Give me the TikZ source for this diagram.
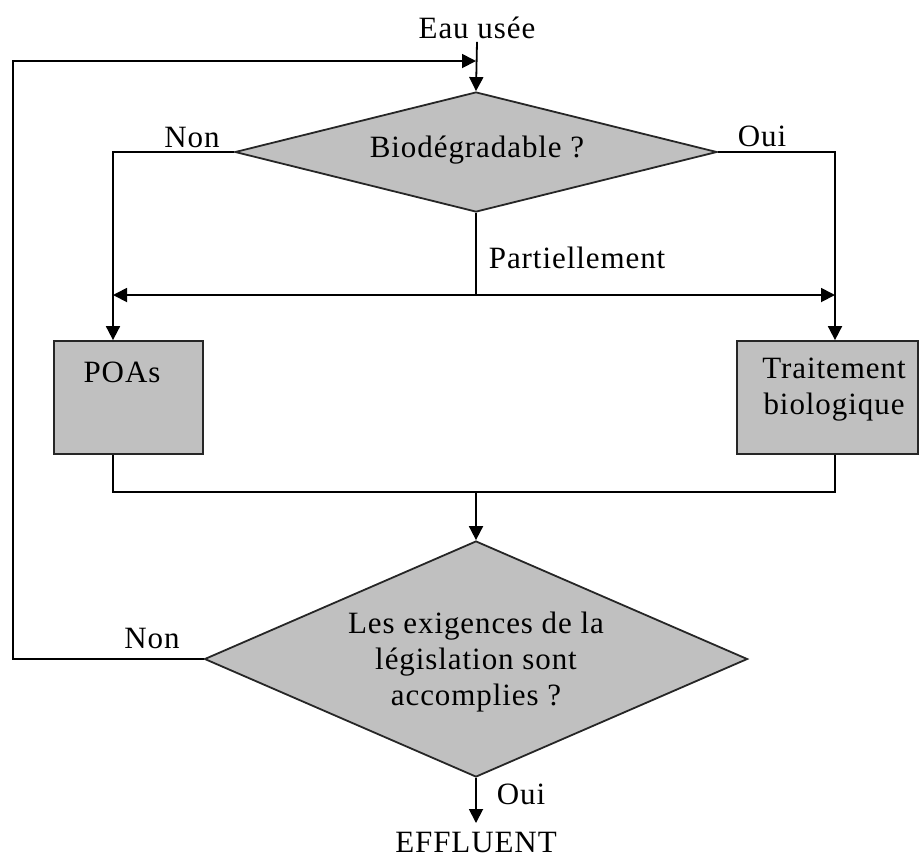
\documentclass[tikz,border=0pt]{standalone}
\usepackage{fontspec}
\setmainfont[LetterSpace=3]{Liberation Serif}
\usetikzlibrary{arrows.meta,shapes.geometric}
\begin{document}
\begin{tikzpicture}[x=0.5pt,y=-0.5pt,
  font=\fontsize{15.5}{18}\selectfont,
  line width=0.9pt,
  tip/.style={-{Triangle[length=7pt,width=7pt]}},
  decision/.style={shape=diamond,draw=black!85,fill=graybox,inner sep=0pt,align=center},
  procbox/.style={shape=rectangle,draw=black!85,fill=graybox,inner sep=0pt},
  lbl/.style={inner sep=1pt,align=center}]
\definecolor{graybox}{HTML}{C0C0C0}
\useasboundingbox (0,0) rectangle (920,859);
% shapes
\node[decision,minimum width=241pt,minimum height=60pt] (d1) at (476,152) {};
\node[lbl] (d1t) at (477,150) {Biodégradable ?};
\node[procbox,minimum width=74.5pt,minimum height=56.5pt] (poa) at (128.5,397.5) {};
\node[lbl] (poat) at (122,372) {POAs};
\node[procbox,minimum width=90.5pt,minimum height=56.5pt] (trt) at (827.5,397.5) {};
\node[lbl] (trtt) at (834,390) {Traitement\\biologique};
\node[decision,aspect=2.3,minimum width=271.5pt,minimum height=118pt] (d2) at (476,659) {};
\node[lbl] (d2t) at (476,662) {Les exigences de la\\législation sont\\accomplies ?};
% labels
\node[lbl] (eau) at (477,28) {Eau usée};
\node[lbl] (non1) at (192,137) {Non};
\node[lbl] (oui1) at (762,136) {Oui};
\node[lbl,anchor=west] (part) at (486,258) {Partiellement};
\node[lbl] (non2) at (152,638) {Non};
\node[lbl] (oui2) at (521,794) {Oui};
\node[lbl] (eff) at (476,842) {EFFLUENT};
% coordinates
\coordinate (L) at (113,295);
\coordinate (R) at (835,295);
\coordinate (M) at (476,295);
\coordinate (FB) at (13,61);
\coordinate (FBe) at (476,61);
\coordinate (J) at (476,492);
\coordinate (out) at (476,823);
% connectors
\draw[tip] (eau.south) -- (d1.north);
\draw[tip] (d2.west) -- (FB |- d2.west) -- (FB) -- (FBe);
\draw[tip] (d1.west) -| (L |- poa.north);
\draw[tip] (d1.east) -| (R |- trt.north);
\draw (d1.south) -- (M);
\draw[{Triangle[length=7pt,width=7pt]}-{Triangle[length=7pt,width=7pt]}] (L) -- (R);
\draw (L |- poa.south) -- (L |- J) -- (R |- J) -- (R |- trt.south);
\draw[tip] (J) -- (d2.north);
\draw[tip] (d2.south) -- (out);
\end{tikzpicture}
\end{document}
